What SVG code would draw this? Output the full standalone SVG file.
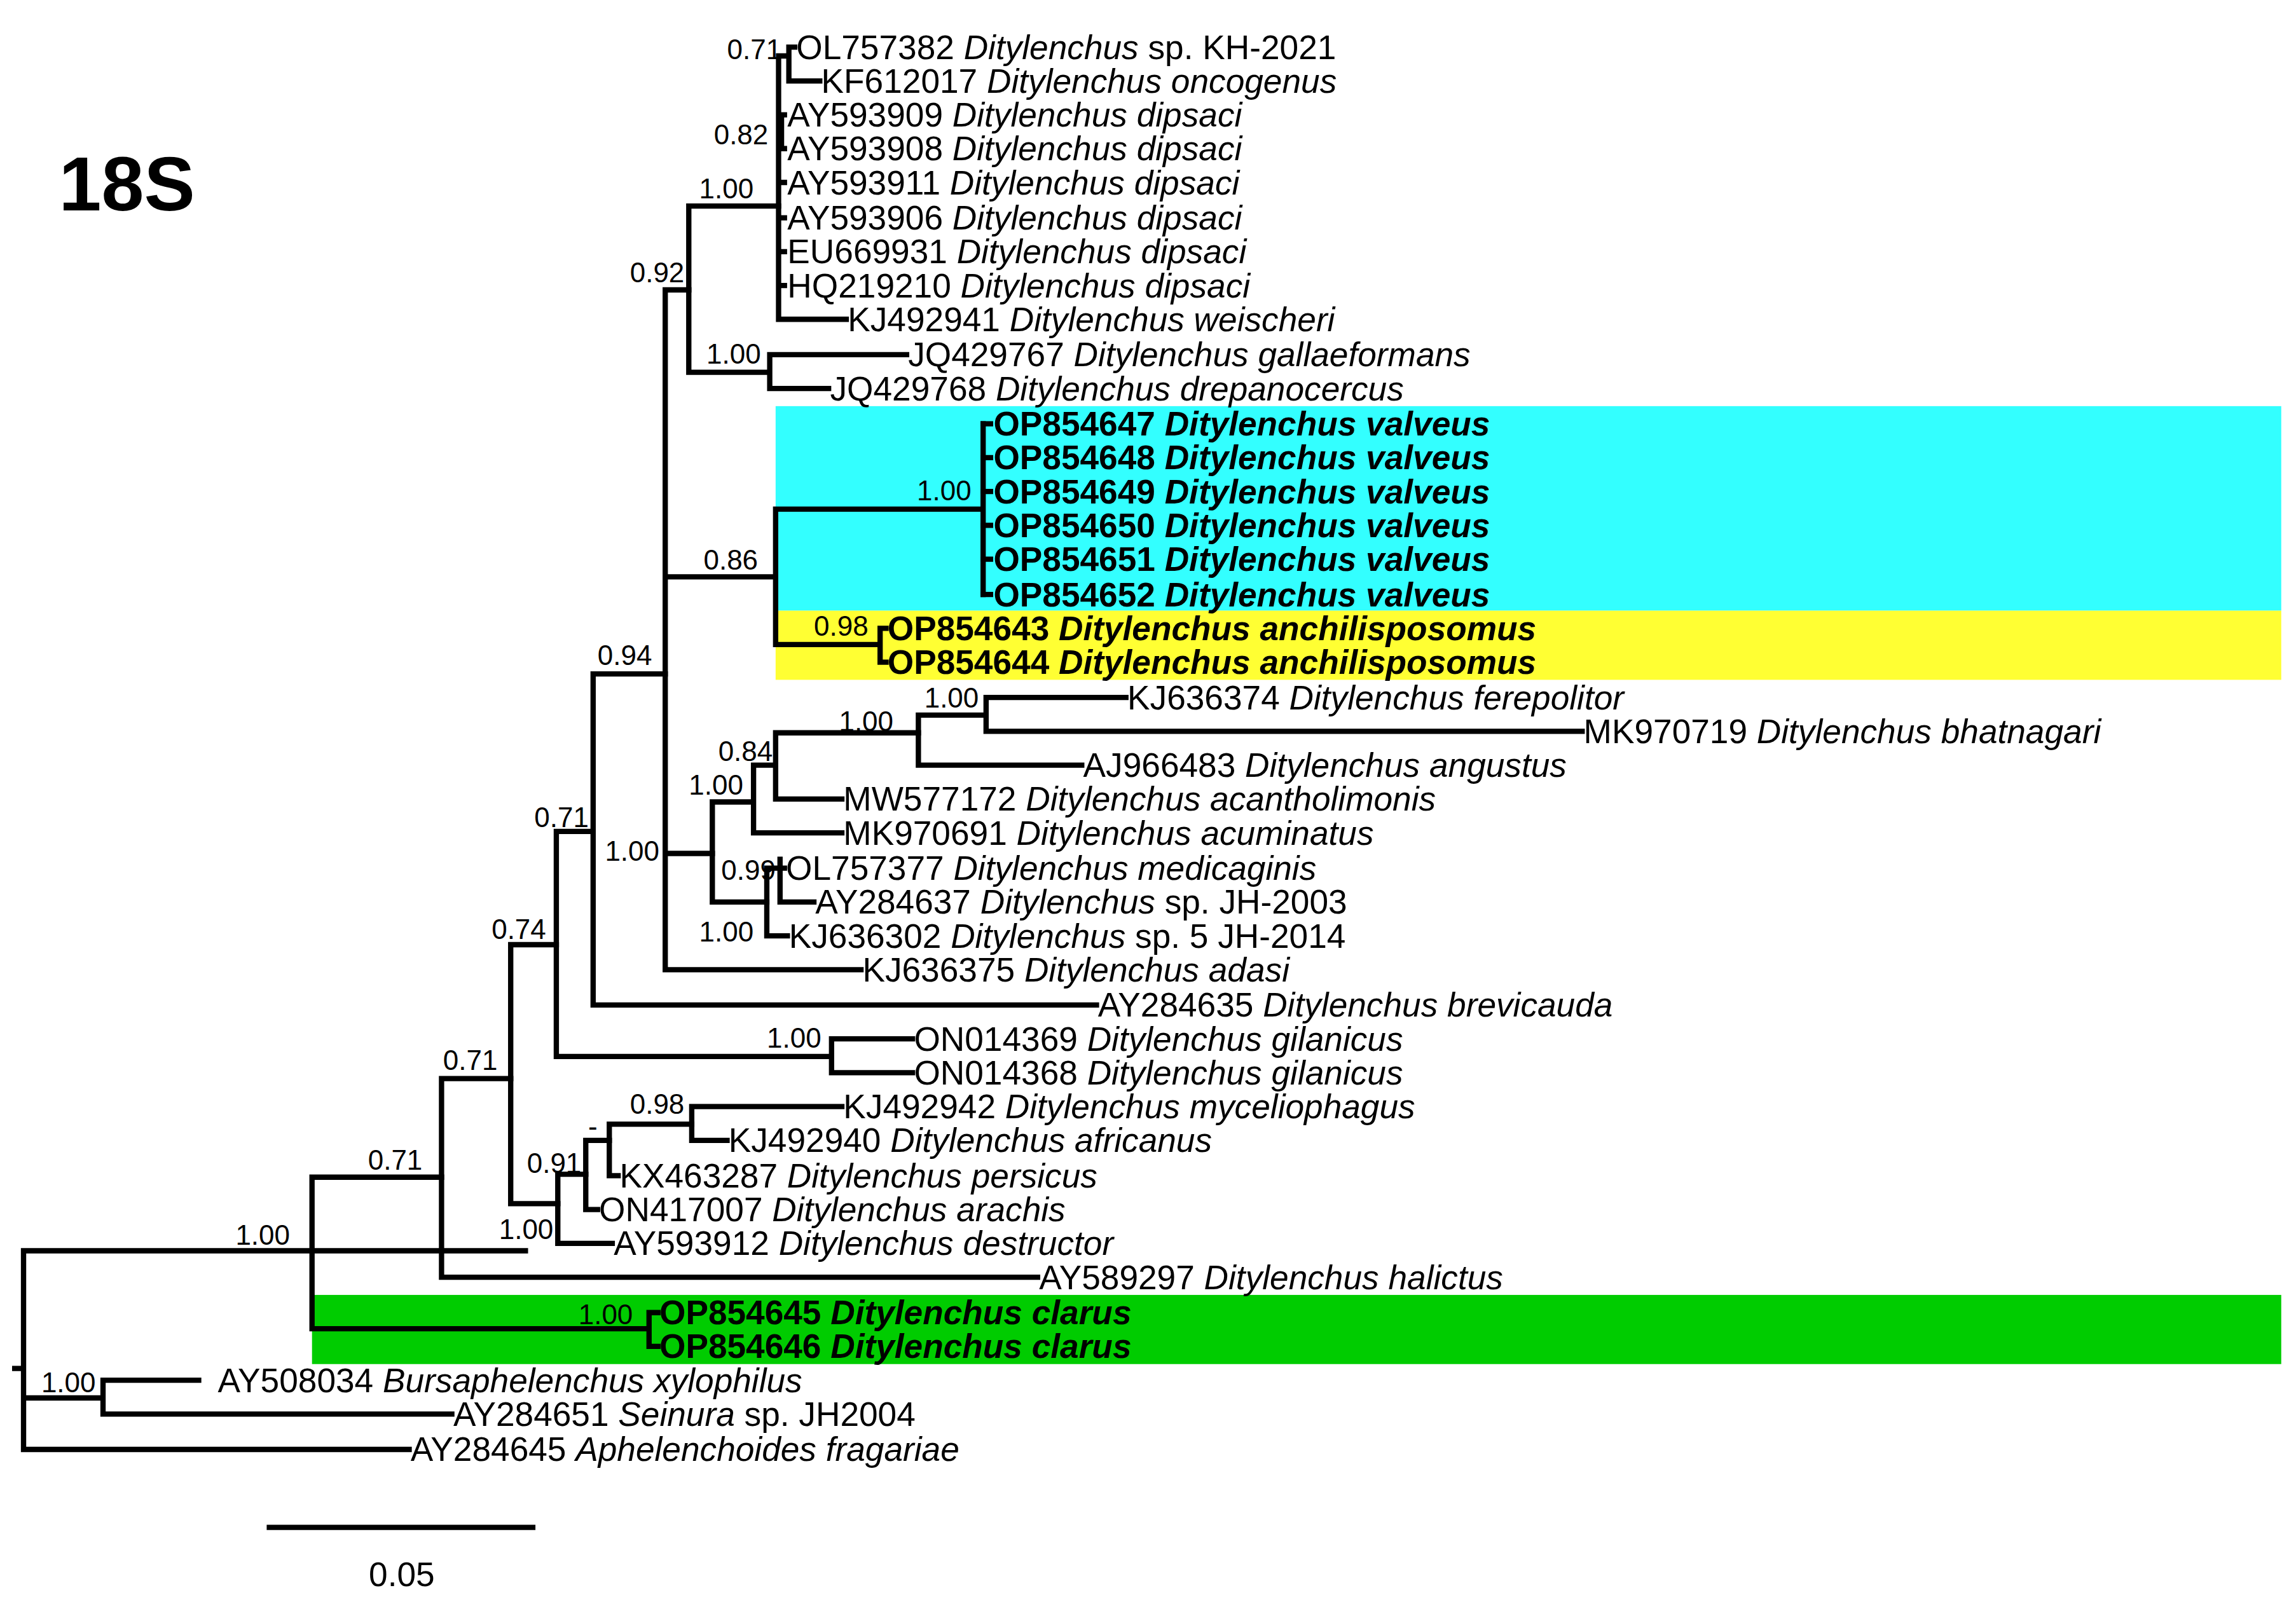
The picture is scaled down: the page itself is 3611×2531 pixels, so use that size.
<svg xmlns="http://www.w3.org/2000/svg" width="3611" height="2531" viewBox="0 0 3611 2531">
<style>
.t{font-family:"Liberation Sans",Arial,sans-serif;font-size:23px;fill:#000}
.b{font-weight:bold}
.s{font-family:"Liberation Sans",Arial,sans-serif;font-size:19px;fill:#000;text-anchor:end}
.e path{fill:none;stroke:#000;stroke-width:3.6;stroke-linecap:square}
</style>
<rect width="3611" height="2531" fill="#fff"/>
<g transform="scale(2.3147)">
<g id="highlights">
<rect x="527" y="276" width="1023" height="139" fill="#33ffff"/>
<rect x="527" y="415" width="1023" height="47" fill="#ffff33"/>
<rect x="212" y="880" width="1338" height="47" fill="#00cc00"/>
</g>
<text id="title" x="40" y="143" font-family="Liberation Sans,Arial,sans-serif" font-weight="bold" font-size="52">18S</text>
<g id="connectors" class="e">
<path d="M10 930H16M16 850V985M16 850H357M16 985H278M16 950H70M70 938V961M70 938H135M70 961H307"/>
<path d="M212 800V903M212 800H300M212 903H441M441 892V915M441 892H447M441 915H447"/>
<path d="M300 733V868M300 733H347M300 868H705"/>
<path d="M347 642V818M347 642H378M347 818H379"/>
<path d="M379 798V845M379 798H398M379 845H416"/>
<path d="M398 775V822M398 775H414M398 822H406"/>
<path d="M414 764V799M414 764H470M414 799H420"/>
<path d="M470 752V775M470 752H572M470 775H494"/>
<path d="M378 565V718M378 565H403M378 718H565M565 706V729M565 706H620M565 729H620"/>
<path d="M403 458V683M403 458H452M403 683H745"/>
<path d="M452 197V659M452 197H468M452 392H527M452 580H484M452 659H585"/>
<path d="M468 140V253M468 140H529M468 253H523M523 241V264M523 241H616M523 264H563"/>
<path d="M529 38V217M529 217H575M529 78H533M529 101H533M529 124H533M529 148H533M529 171H533M529 194H533M531 78V101M529 38H536M536 32V55M536 32H540M536 55H557"/>
<path d="M527 346V438M527 346H668M527 438H598M668 288V404M598 427V450M598 427H602M598 450H602"/>
<path d="M668 288H673M668 311H673M668 334H673M668 357H673M668 380H673M668 404H673"/>
<path d="M484 545V613M484 545H512M484 613H521M512 520V566M512 520H527M512 566H572M527 498V543M527 498H624M527 543H572"/>
<path d="M624 486V520M624 486H670M624 520H735M670 474V497M670 474H765M670 497H1075"/>
<path d="M521 590V636M521 590H530M521 636H535M530 584V613M530 590H533M530 613H553"/>
<path d="M183 1038H362"/>
</g>
<g id="leaves" class="t">
<text x="541" y="40">OL757382  <tspan font-style="italic">Ditylenchus</tspan> sp. KH-2021</text>
<text x="558" y="63">KF612017 <tspan font-style="italic">Ditylenchus oncogenus</tspan></text>
<text x="535" y="86">AY593909 <tspan font-style="italic">Ditylenchus dipsaci</tspan></text>
<text x="535" y="109">AY593908 <tspan font-style="italic">Ditylenchus dipsaci</tspan></text>
<text x="535" y="132">AY593911 <tspan font-style="italic">Ditylenchus dipsaci</tspan></text>
<text x="535" y="156">AY593906 <tspan font-style="italic">Ditylenchus dipsaci</tspan></text>
<text x="535" y="179">EU669931 <tspan font-style="italic">Ditylenchus dipsaci</tspan></text>
<text x="535" y="202">HQ219210 <tspan font-style="italic">Ditylenchus dipsaci</tspan></text>
<text x="576" y="225">KJ492941 <tspan font-style="italic">Ditylenchus weischeri</tspan></text>
<text x="617" y="249">JQ429767 <tspan font-style="italic">Ditylenchus gallaeformans</tspan></text>
<text x="564" y="272">JQ429768 <tspan font-style="italic">Ditylenchus drepanocercus</tspan></text>
<text class="b" x="675" y="296">OP854647 <tspan font-style="italic">Ditylenchus valveus</tspan></text>
<text class="b" x="675" y="319">OP854648 <tspan font-style="italic">Ditylenchus valveus</tspan></text>
<text class="b" x="675" y="342">OP854649 <tspan font-style="italic">Ditylenchus valveus</tspan></text>
<text class="b" x="675" y="365">OP854650 <tspan font-style="italic">Ditylenchus valveus</tspan></text>
<text class="b" x="675" y="388">OP854651 <tspan font-style="italic">Ditylenchus valveus</tspan></text>
<text class="b" x="675" y="412">OP854652 <tspan font-style="italic">Ditylenchus valveus</tspan></text>
<text class="b" x="603" y="435">OP854643 <tspan font-style="italic">Ditylenchus anchilisposomus</tspan></text>
<text class="b" x="603" y="458">OP854644 <tspan font-style="italic">Ditylenchus anchilisposomus</tspan></text>
<text x="766" y="482">KJ636374 <tspan font-style="italic">Ditylenchus ferepolitor</tspan></text>
<text x="1076" y="505">MK970719 <tspan font-style="italic">Ditylenchus bhatnagari</tspan></text>
<text x="736" y="528">AJ966483 <tspan font-style="italic">Ditylenchus angustus</tspan></text>
<text x="573" y="551">MW577172 <tspan font-style="italic">Ditylenchus acantholimonis</tspan></text>
<text x="573" y="574">MK970691 <tspan font-style="italic">Ditylenchus acuminatus</tspan></text>
<text x="534" y="598">OL757377  <tspan font-style="italic">Ditylenchus medicaginis</tspan></text>
<text x="554" y="621">AY284637 <tspan font-style="italic">Ditylenchus</tspan> sp. JH-2003</text>
<text x="536" y="644">KJ636302 <tspan font-style="italic">Ditylenchus</tspan> sp. 5 JH-2014</text>
<text x="586" y="667">KJ636375 <tspan font-style="italic">Ditylenchus adasi</tspan></text>
<text x="746" y="691">AY284635 <tspan font-style="italic">Ditylenchus brevicauda</tspan></text>
<text x="621" y="714">ON014369 <tspan font-style="italic">Ditylenchus gilanicus</tspan></text>
<text x="621" y="737">ON014368 <tspan font-style="italic">Ditylenchus gilanicus</tspan></text>
<text x="573" y="760">KJ492942 <tspan font-style="italic">Ditylenchus myceliophagus</tspan></text>
<text x="495" y="783">KJ492940 <tspan font-style="italic">Ditylenchus africanus</tspan></text>
<text x="421" y="807">KX463287 <tspan font-style="italic">Ditylenchus persicus</tspan></text>
<text x="407" y="830">ON417007 <tspan font-style="italic">Ditylenchus arachis</tspan></text>
<text x="417" y="853">AY593912 <tspan font-style="italic">Ditylenchus destructor</tspan></text>
<text x="706" y="876">AY589297 <tspan font-style="italic">Ditylenchus halictus</tspan></text>
<text class="b" x="448" y="900">OP854645 <tspan font-style="italic">Ditylenchus clarus</tspan></text>
<text class="b" x="448" y="923">OP854646 <tspan font-style="italic">Ditylenchus clarus</tspan></text>
<text x="148" y="946">AY508034 <tspan font-style="italic">Bursaphelenchus xylophilus</tspan></text>
<text x="308" y="969">AY284651 <tspan font-style="italic">Seinura</tspan> sp. JH2004</text>
<text x="279" y="993">AY284645 <tspan font-style="italic">Aphelenchoides fragariae</tspan></text>
</g>
<g id="support" class="s">
<text x="531" y="40">0.71</text><text x="522" y="98">0.82</text><text x="512" y="135">1.00</text>
<text x="465" y="192">0.92</text><text x="517" y="247">1.00</text><text x="660" y="340">1.00</text>
<text x="515" y="387">0.86</text><text x="590" y="432">0.98</text><text x="443" y="452">0.94</text>
<text x="665" y="481">1.00</text><text x="607" y="497">1.00</text><text x="525" y="517">0.84</text>
<text x="505" y="540">1.00</text><text x="400" y="562">0.71</text><text x="448" y="585">1.00</text>
<text x="527" y="598">0.99</text><text x="512" y="640">1.00</text><text x="371" y="638">0.74</text>
<text x="558" y="712">1.00</text><text x="338" y="727">0.71</text><text x="465" y="757">0.98</text>
<text x="406" y="772">-</text><text x="395" y="797">0.91</text><text x="287" y="795">0.71</text>
<text x="376" y="842">1.00</text><text x="197" y="846">1.00</text><text x="430" y="900">1.00</text>
<text x="65" y="946">1.00</text>
</g>
<text id="scale" x="273" y="1078" text-anchor="middle" font-family="Liberation Sans,Arial,sans-serif" font-size="23">0.05</text>
</g>
</svg>
